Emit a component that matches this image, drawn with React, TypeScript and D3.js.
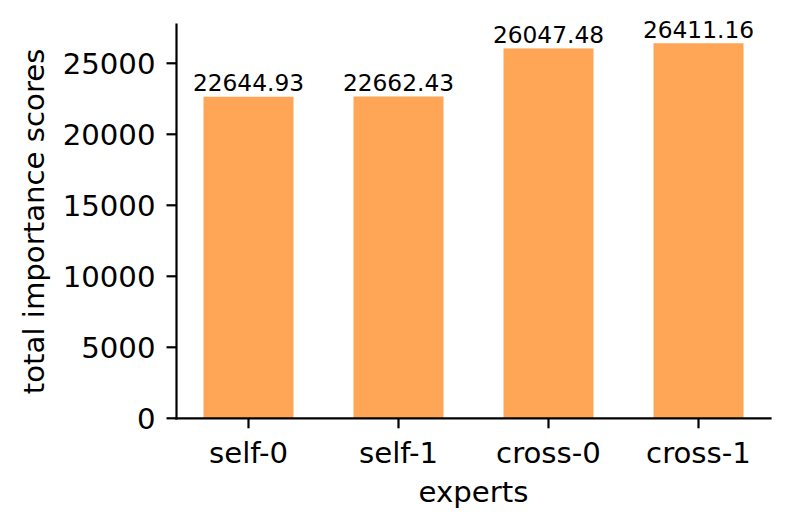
import React from "react";
import * as d3 from "d3";

const categories = ["self-0", "self-1", "cross-0", "cross-1"];
const values = [22644.93, 22662.43, 26047.48, 26411.16];
const yTicks = [0, 5000, 10000, 15000, 20000, 25000];

const W = 792;
const H = 530;
const FONT = "DejaVu Sans, sans-serif";

export default function App() {
  const left = 176.5;
  const right = 770.5;
  const bottom = 418.3;
  const top = 24.5;
  const barW = 0.6;
  const n = categories.length;
  const xMin = -barW / 2 - 0.05 * (n - 1 + barW);
  const xMax = n - 1 + barW / 2 + 0.05 * (n - 1 + barW);
  const x = d3.scaleLinear().domain([xMin, xMax]).range([left, right]);
  const yMax = (d3.max(values) as number) * 1.05;
  const y = d3.scaleLinear().domain([0, yMax]).range([bottom, top]);
  const fs = 29.2;
  const fsBar = 23.3;
  const color = "#ffa556";
  return (
    <svg width={W} height={H} style={{ position: "absolute", left: 0, top: 0, background: "#fff" }} fontFamily={FONT}>
      {values.map((v, i) => (
        <rect key={i} x={x(i - barW / 2)} y={y(v)} width={x(i + barW / 2) - x(i - barW / 2)} height={y(0) - y(v)} fill={color} />
      ))}
      {values.map((v, i) => (
        <text key={"l" + i} x={x(i)} y={y(v) - 5.5} textAnchor="middle" fontSize={fsBar} fill="#000">
          {v.toFixed(2)}
        </text>
      ))}
      {/* y axis */}
      <line x1={left} x2={left} y1={top} y2={bottom} stroke="#000" strokeWidth={2.2} strokeLinecap="square" />
      {yTicks.map((t) => (
        <g key={t}>
          <line x1={left - 10} x2={left} y1={y(t)} y2={y(t)} stroke="#000" strokeWidth={2.2} />
          <text x={left - 21} y={y(t) + 0.3645 * fs} textAnchor="end" fontSize={fs} fill="#000">
            {t}
          </text>
        </g>
      ))}
      {/* x axis */}
      <line x1={left} x2={right} y1={bottom} y2={bottom} stroke="#000" strokeWidth={2.2} strokeLinecap="square" />
      {categories.map((c, i) => (
        <g key={c}>
          <line x1={x(i)} x2={x(i)} y1={bottom} y2={bottom + 10} stroke="#000" strokeWidth={2.2} />
          <text x={x(i)} y={462.5} textAnchor="middle" fontSize={fs} fill="#000">
            {c}
          </text>
        </g>
      ))}
      <text x={(left + right) / 2} y={501.5} textAnchor="middle" fontSize={fs} fill="#000">
        experts
      </text>
      <text transform={`translate(43.5,${(top + bottom) / 2}) rotate(-90)`} textAnchor="middle" fontSize={fs} fill="#000">
        total importance scores
      </text>
    </svg>
  );
}
